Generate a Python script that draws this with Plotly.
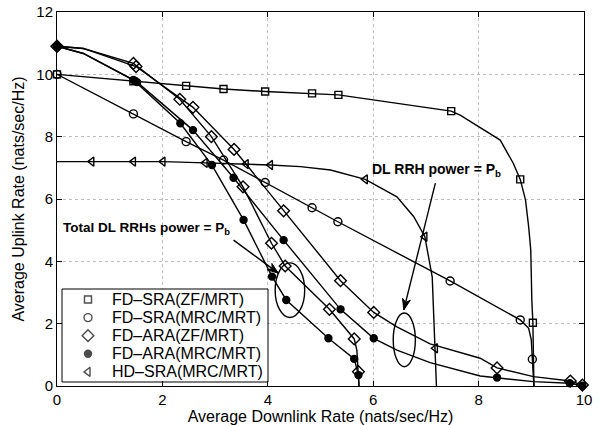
import plotly.graph_objects as go

# ---------------- data ----------------
# FD-SRA(ZF/MRT)  (squares)
sq_line_x = [0, 1.45, 2.45, 3.16, 3.95, 4.84, 5.34, 7.48, 7.65, 8.41, 8.66, 8.79, 8.89, 8.95, 8.99, 9.01, 9.03, 9.05]
sq_line_y = [10, 9.78, 9.63, 9.53, 9.45, 9.39, 9.34, 8.82, 8.69, 7.89, 7.14, 6.63, 5.97, 5.11, 4.36, 2.76, 2.03, 0]
sq_mk_x = [0, 1.45, 2.45, 3.16, 3.95, 4.84, 5.34, 7.48, 8.79, 9.03]
sq_mk_y = [10, 9.78, 9.63, 9.53, 9.45, 9.39, 9.34, 8.82, 6.63, 2.03]

# FD-SRA(MRC/MRT)  (open circles)
ci_line_x = [0, 1.45, 2.45, 3.16, 3.95, 4.84, 5.33, 7.46, 8.79, 8.95, 9.0, 9.02, 9.05]
ci_line_y = [10, 8.73, 7.84, 7.25, 6.53, 5.72, 5.27, 3.37, 2.12, 1.85, 1.48, 0.86, 0]
ci_mk_x = [0, 1.45, 2.45, 3.16, 3.95, 4.84, 5.33, 7.46, 8.79, 9.02]
ci_mk_y = [10, 8.73, 7.84, 7.25, 6.53, 5.72, 5.27, 3.37, 2.12, 0.86]

# FD-ARA(ZF/MRT)  (diamonds) - total DL RRHs power = Pb
dt_line_x = [0, 0.5, 1.45, 2.33, 2.93, 3.53, 4.07, 4.33, 5.17, 5.64, 5.69, 5.72, 5.73]
dt_line_y = [10.9, 10.83, 10.35, 9.2, 8.0, 6.39, 4.58, 3.85, 2.46, 1.51, 1.15, 0.46, 0]
dt_mk_x = [0, 1.45, 2.33, 2.93, 3.53, 4.07, 4.33, 5.17, 5.64, 5.72]
dt_mk_y = [10.9, 10.35, 9.2, 8.0, 6.39, 4.58, 3.85, 2.46, 1.51, 0.46]
# FD-ARA(ZF/MRT)  (diamonds) - DL RRH power = Pb
dp_line_x = [0, 0.5, 1.5, 2.58, 3.36, 4.3, 5.38, 6.01, 6.45, 7.08, 8.03, 8.35, 9.04, 9.74, 9.97]
dp_line_y = [10.9, 10.83, 10.25, 8.94, 7.59, 5.62, 3.38, 2.36, 1.9, 1.35, 0.89, 0.58, 0.3, 0.16, 0.03]
dp_mk_x = [0, 1.5, 2.58, 3.36, 4.3, 5.38, 6.01, 8.35, 9.74, 9.97]
dp_mk_y = [10.9, 10.25, 8.94, 7.59, 5.62, 3.38, 2.36, 0.58, 0.16, 0.03]

# FD-ARA(MRC/MRT)  (filled circles) - total DL RRHs power = Pb
ft_line_x = [0, 0.5, 1.45, 2.34, 2.94, 3.54, 4.08, 4.35, 5.15, 5.64, 5.72, 5.73]
ft_line_y = [10.9, 10.67, 9.82, 8.43, 7.09, 5.33, 3.51, 2.76, 1.53, 0.87, 0.35, 0]
ft_mk_x = [0, 1.45, 2.34, 2.94, 3.54, 4.08, 4.35, 5.15, 5.64, 5.72]
ft_mk_y = [10.9, 9.82, 8.43, 7.09, 5.33, 3.51, 2.76, 1.53, 0.87, 0.35]
# FD-ARA(MRC/MRT)  (filled circles) - DL RRH power = Pb
fp_line_x = [0, 0.5, 1.52, 2.58, 3.35, 4.3, 5.38, 6.01, 6.45, 7.08, 8.03, 8.35, 9.04, 9.73, 9.97]
fp_line_y = [10.9, 10.67, 9.75, 8.21, 6.68, 4.68, 2.46, 1.53, 1.15, 0.75, 0.32, 0.27, 0.14, 0.09, 0.01]
fp_mk_x = [0, 1.52, 2.58, 3.35, 4.3, 5.38, 6.01, 8.35, 9.73, 9.97]
fp_mk_y = [10.9, 9.75, 8.21, 6.68, 4.68, 2.46, 1.53, 0.27, 0.09, 0.01]

# HD-SRA(MRC/MRT)  (left triangles)
hd_line_x = [0, 0.66, 1.45, 2.01, 2.81, 3.59, 4.05, 4.62, 5.19, 5.85, 6.45, 6.77, 6.98, 7.12, 7.18, 7.2]
hd_line_y = [7.2, 7.2, 7.2, 7.2, 7.16, 7.12, 7.09, 7.04, 6.93, 6.63, 6.07, 5.43, 4.79, 3.5, 1.21, 0]
hd_mk_x = [0.66, 1.45, 2.01, 2.81, 3.59, 4.05, 5.85, 6.98, 7.18]
hd_mk_y = [7.2, 7.2, 7.2, 7.16, 7.12, 7.09, 6.63, 4.79, 1.21]

names = ["FD–SRA(ZF/MRT)", "FD–SRA(MRC/MRT)", "FD–ARA(ZF/MRT)", "FD–ARA(MRC/MRT)", "HD–SRA(MRC/MRT)"]
symbols = ["square-open", "circle-open", "diamond-open", "circle", "triangle-left-open"]
sizes = [7, 8, 9, 7, 8]
x_ticks = [0, 2, 4, 6, 8, 10]
y_ticks = [0, 2, 4, 6, 8, 10, 12]

FONT = "Liberation Sans, Arial, Helvetica, sans-serif"
W, H = 609, 425
ML, MR, MT, MB = 57, 25, 12, 39
X_RANGE, Y_RANGE = [0, 10], [0, 12]
SX = (W - ML - MR) / (X_RANGE[1] - X_RANGE[0])   # px per x unit
SY = (H - MT - MB) / (Y_RANGE[1] - Y_RANGE[0])   # px per y unit


def px2x(px):
    return X_RANGE[0] + (px - ML) / SX


def py2y(py):
    return Y_RANGE[0] + (H - MB - py) / SY


fig = go.Figure()


def add_curve(lx, ly, mx, my, k):
    fig.add_trace(go.Scatter(x=lx, y=ly, mode="lines",
                             line=dict(color="black", width=1.4),
                             showlegend=False, hoverinfo="skip"))
    fig.add_trace(go.Scatter(x=mx, y=my, mode="markers", name=names[k], showlegend=False,
                             cliponaxis=False,
                             marker=dict(symbol=symbols[k], size=sizes[k], color="black",
                                         line=dict(color="black", width=1.4))))


add_curve(sq_line_x, sq_line_y, sq_mk_x, sq_mk_y, 0)
add_curve(ci_line_x, ci_line_y, ci_mk_x, ci_mk_y, 1)
add_curve(dt_line_x, dt_line_y, dt_mk_x, dt_mk_y, 2)
add_curve(dp_line_x, dp_line_y, dp_mk_x, dp_mk_y, 2)
add_curve(ft_line_x, ft_line_y, ft_mk_x, ft_mk_y, 3)
add_curve(fp_line_x, fp_line_y, fp_mk_x, fp_mk_y, 3)
add_curve(hd_line_x, hd_line_y, hd_mk_x, hd_mk_y, 4)

# ---- legend (MATLAB-style compact box), positions given in pixels ----
LEG_BOX = (62, 289, 268, 382)     # left, top, right, bottom (px)
LEG_SYM_X, LEG_TXT_X = 88, 110
LEG_Y0, LEG_DY = 299.5, 18.1
leg_py = [LEG_Y0 + i * LEG_DY for i in range(len(names))]

fig.add_shape(type="rect", xref="x", yref="y",
              x0=px2x(LEG_BOX[0]), x1=px2x(LEG_BOX[2]),
              y0=py2y(LEG_BOX[3]), y1=py2y(LEG_BOX[1]),
              fillcolor="white", layer="between",
              line=dict(color="black", width=1))
fig.add_trace(go.Scatter(x=[px2x(LEG_SYM_X)] * len(names), y=[py2y(p) for p in leg_py],
                         mode="markers", showlegend=False, hoverinfo="skip",
                         cliponaxis=False,
                         marker=dict(symbol=symbols, size=sizes, color="black",
                                     line=dict(color="black", width=1.4))))
for nm, p in zip(names, leg_py):
    fig.add_annotation(x=px2x(LEG_TXT_X), y=py2y(p), xref="x", yref="y", xanchor="left",
                       yanchor="middle", text=nm, showarrow=False,
                       font=dict(family=FONT, size=16, color="black"))

axis_common = dict(
    showline=True, linecolor="black", linewidth=1, mirror="ticks",
    ticks="inside", ticklen=5, tickcolor="black", tickwidth=1,
    showgrid=True, gridcolor="#bdbdbd", griddash="dot", gridwidth=1,
    zeroline=False, tickfont=dict(family=FONT, size=15, color="black"),
)

fig.update_layout(
    width=W, height=H,
    margin=dict(l=ML, r=MR, t=MT, b=MB),
    paper_bgcolor="white", plot_bgcolor="white",
    font=dict(family=FONT, color="black"),
    showlegend=False,
    xaxis=dict(range=X_RANGE, tickvals=x_ticks, automargin=False,
               title=dict(text="Average Downlink Rate (nats/sec/Hz)",
                          font=dict(family=FONT, size=16), standoff=4),
               **axis_common),
    yaxis=dict(range=Y_RANGE, tickvals=y_ticks, automargin=False,
               title=dict(text="Average Uplink Rate (nats/sec/Hz)",
                          font=dict(family=FONT, size=16), standoff=7),
               **axis_common),
)

# ellipses around the curve groups
fig.add_shape(type="circle", xref="x", yref="y", x0=4.14, x1=4.70, y0=2.2, y1=3.95,
              line=dict(color="black", width=1.4))
fig.add_shape(type="circle", xref="x", yref="y", x0=6.38, x1=6.80, y0=0.62, y1=2.34,
              line=dict(color="black", width=1.4))


# arrows: a line plus a filled head, head built in pixel space
def arrow(tx, ty, hx, hy, length=11, half=4):
    fig.add_shape(type="line", xref="x", yref="y", x0=tx, y0=ty, x1=hx, y1=hy,
                  line=dict(color="black", width=1.4))
    dx, dy = (hx - tx) * SX, -(hy - ty) * SY
    n = (dx * dx + dy * dy) ** 0.5
    ux, uy = dx / n, dy / n
    px, py = -uy, ux
    pts = []
    for bx, by in [(0, 0),
                   (-length * ux + half * px, -length * uy + half * py),
                   (-0.7 * length * ux, -0.7 * length * uy),
                   (-length * ux - half * px, -length * uy - half * py)]:
        pts.append((hx + bx / SX, hy - by / SY))
    path = "M " + " L ".join(f"{a:.4f},{b:.4f}" for a, b in pts) + " Z"
    fig.add_shape(type="path", xref="x", yref="y", path=path, fillcolor="black",
                  line=dict(color="black", width=1))


arrow(3.35, 4.68, 4.2, 3.62)
arrow(7.18, 6.51, 6.58, 2.44)

# labels
fig.add_annotation(x=0.07, y=5.04, xref="x", yref="y", xanchor="left", yanchor="middle",
                   text="<b>Total DL RRHs power = P<sub>b</sub></b>", showarrow=False,
                   font=dict(family=FONT, size=13.5, color="black"))
fig.add_annotation(x=5.93, y=6.93, xref="x", yref="y", xanchor="left", yanchor="middle",
                   text="<b>DL RRH power = P<sub>b</sub></b>", showarrow=False,
                   font=dict(family=FONT, size=14, color="black"))

fig.write_html("out.html")
